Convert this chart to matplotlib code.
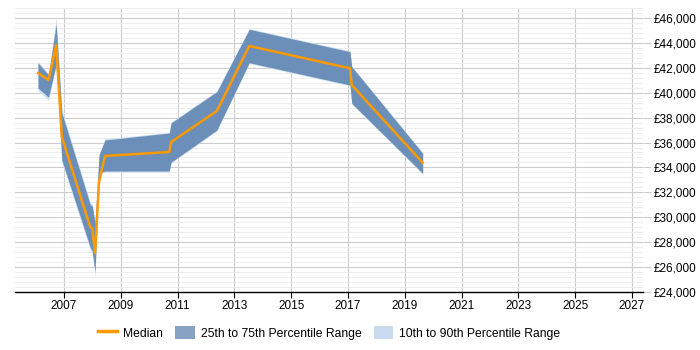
import matplotlib
matplotlib.use("Agg")
import matplotlib.pyplot as plt
from matplotlib.ticker import MultipleLocator, FuncFormatter
from matplotlib.patches import Patch
from matplotlib.lines import Line2D

plt.rcParams['font.family'] = ['Liberation Sans', 'DejaVu Sans']

years = [2006.08, 2006.45, 2006.72, 2006.92, 2007.92, 2007.99, 2008.09, 2008.23, 2008.44,
         2010.70, 2010.77, 2012.38, 2013.52, 2017.07, 2017.13, 2019.63]
median = [41580, 41020, 43830, 36440, 29210, 29100, 27125, 32830, 34920,
          35240, 36040, 38530, 43750, 41960, 40620, 34380]
p75 = [42390, 41420, 45500, 38370, 31000, 30900, 29500, 35000, 36200,
       36760, 37570, 40080, 45090, 43290, 42090, 35130]
p25 = [40380, 39650, 42300, 34600, 27600, 27300, 25600, 33550, 33710,
       33710, 34430, 37000, 42410, 40620, 39150, 33530]
p90 = [42500, 41550, 46000, 38600, 31200, 31100, 29700, 35100, 36300,
       36800, 37650, 40150, 45150, 43350, 42150, 35200]
p10 = [40200, 39400, 42100, 34400, 27400, 27100, 25200, 33400, 33650,
       33650, 34350, 36950, 42350, 40550, 39100, 33450]

fig = plt.figure(figsize=(7, 3.5), dpi=100)
ax = fig.add_axes([15/700, 1 - 292/350, 628/700, 284/350])

c_outer = '#c9dcef'
c_inner = '#6b8fb8'
c_med = '#ff9900'

ax.fill_between(years, p10, p90, color=c_outer, lw=0, zorder=2)
ax.fill_between(years, p25, p75, color=c_inner, lw=0, zorder=3)
ax.plot(years, median, color=c_med, lw=1.8, zorder=4)

ax.set_xlim(2005.27, 2027.39)
ax.set_ylim(24000, 46800)
ax.set_xticks(list(range(2007, 2028, 2)))
ax.xaxis.set_major_formatter(FuncFormatter(lambda v, p: f"{int(round(v))}"))
ax.yaxis.set_major_locator(MultipleLocator(2000))
ax.yaxis.set_minor_locator(MultipleLocator(400))
ax.yaxis.set_major_formatter(FuncFormatter(lambda v, p: f"£{int(v):,}"))
ax.yaxis.tick_right()

ax.grid(axis='x', which='major', color='#cccccc', lw=0.8, zorder=0)
ax.grid(axis='y', which='major', color='#cccccc', lw=0.8, zorder=0)
ax.grid(axis='y', which='minor', color='#ebebeb', lw=0.6, zorder=0)
ax.set_axisbelow(True)

for s in ['top', 'left', 'right']:
    ax.spines[s].set_visible(False)
ax.spines['bottom'].set_color('#000000')
ax.spines['bottom'].set_linewidth(1.0)

ax.tick_params(axis='x', length=4, color='#000000', labelsize=8.5, pad=2)
ax.tick_params(axis='y', which='major', length=6, color='#cccccc', labelsize=8.5, pad=2)
ax.tick_params(axis='y', which='minor', length=0)

handles = [Line2D([0], [0], color=c_med, lw=2.5),
           Patch(facecolor='#86a3c4', edgecolor='none'),
           Patch(facecolor=c_outer, edgecolor='none')]
labels = ['Median', '25th to 75th Percentile Range', '10th to 90th Percentile Range']
fig.legend(handles, labels, loc='center', bbox_to_anchor=(329/700, 1 - 333/350), ncol=3,
           frameon=False, fontsize=8.7, handlelength=1.6, handleheight=1.2,
           columnspacing=1.0, handletextpad=0.5)

fig.savefig('out.png', dpi=100)
